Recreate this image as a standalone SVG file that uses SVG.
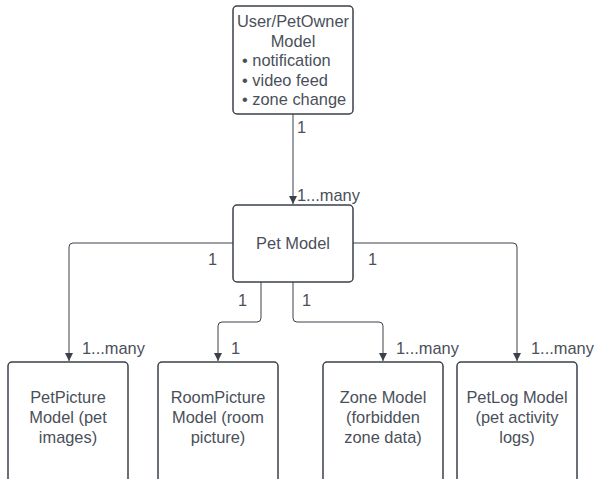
<svg xmlns="http://www.w3.org/2000/svg" width="594" height="479" viewBox="0 0 594 479">
  <defs>
    <marker id="arrow" viewBox="0 0 8 12" refX="8" refY="6" markerWidth="8" markerHeight="12" markerUnits="userSpaceOnUse" orient="auto">
      <path d="M0,2 L8,6 L0,10 Z" fill="#3a414a"/>
    </marker>
    <style>
      .box { fill: #ffffff; stroke: #3a414a; stroke-width: 1.5; }
      .edge { fill: none; stroke: #3a414a; stroke-width: 1; marker-end: url(#arrow); }
      text { font-family: "Liberation Sans", Arial, sans-serif; font-size: 16.4px; fill: #4a5059; }
      .c { text-anchor: middle; }
    </style>
  </defs>
  <rect width="594" height="479" fill="#ffffff"/>

  <!-- connectors and their multiplicity labels -->
  <g id="connectors">
    <path class="edge" d="M293,114 L293,204"/>
    <path class="edge" d="M233,243 L73,243 Q69,243 69,247 L69,361"/>
    <path class="edge" d="M261,282 L261,318 Q261,322 257,322 L222,322 Q218,322 218,326 L218,361"/>
    <path class="edge" d="M293,282 L293,318 Q293,322 297,322 L379,322 Q383,322 383,326 L383,361"/>
    <path class="edge" d="M353,243 L513,243 Q517,243 517,247 L517,361"/>
    <text x="297" y="133">1</text>
    <text x="297" y="201">1...many</text>
    <text x="208" y="265">1</text>
    <text x="368" y="265">1</text>
    <text x="238" y="306">1</text>
    <text x="302" y="306">1</text>
    <text x="82" y="354">1...many</text>
    <text x="231" y="354">1</text>
    <text x="396" y="354">1...many</text>
    <text x="531" y="354">1...many</text>
  </g>

  <g id="user-model">
    <rect class="box" x="233" y="6" width="120" height="108" rx="4"/>
    <text class="c" x="293" y="27">User/PetOwner</text>
    <text class="c" x="293" y="46.5">Model</text>
    <text x="242" y="66">• notification</text>
    <text x="242" y="85.5">• video feed</text>
    <text x="242" y="105">• zone change</text>
  </g>

  <g id="pet-model">
    <rect class="box" x="233" y="205" width="120" height="77" rx="4"/>
    <text class="c" x="293" y="249">Pet Model</text>
  </g>

  <g id="petpicture-model">
    <rect class="box" x="8" y="362" width="120" height="122" rx="4"/>
    <text class="c" x="68" y="403">PetPicture</text>
    <text class="c" x="68" y="423">Model (pet</text>
    <text class="c" x="68" y="443">images)</text>
  </g>

  <g id="roompicture-model">
    <rect class="box" x="158" y="362" width="120" height="122" rx="4"/>
    <text class="c" x="218" y="403">RoomPicture</text>
    <text class="c" x="218" y="423">Model (room</text>
    <text class="c" x="218" y="443">picture)</text>
  </g>

  <g id="zone-model">
    <rect class="box" x="323" y="362" width="120" height="122" rx="4"/>
    <text class="c" x="383" y="403">Zone Model</text>
    <text class="c" x="383" y="423">(forbidden</text>
    <text class="c" x="383" y="443">zone data)</text>
  </g>

  <g id="petlog-model">
    <rect class="box" x="457" y="362" width="120" height="122" rx="4"/>
    <text class="c" x="517" y="403">PetLog Model</text>
    <text class="c" x="517" y="423">(pet activity</text>
    <text class="c" x="517" y="443">logs)</text>
  </g>
</svg>
